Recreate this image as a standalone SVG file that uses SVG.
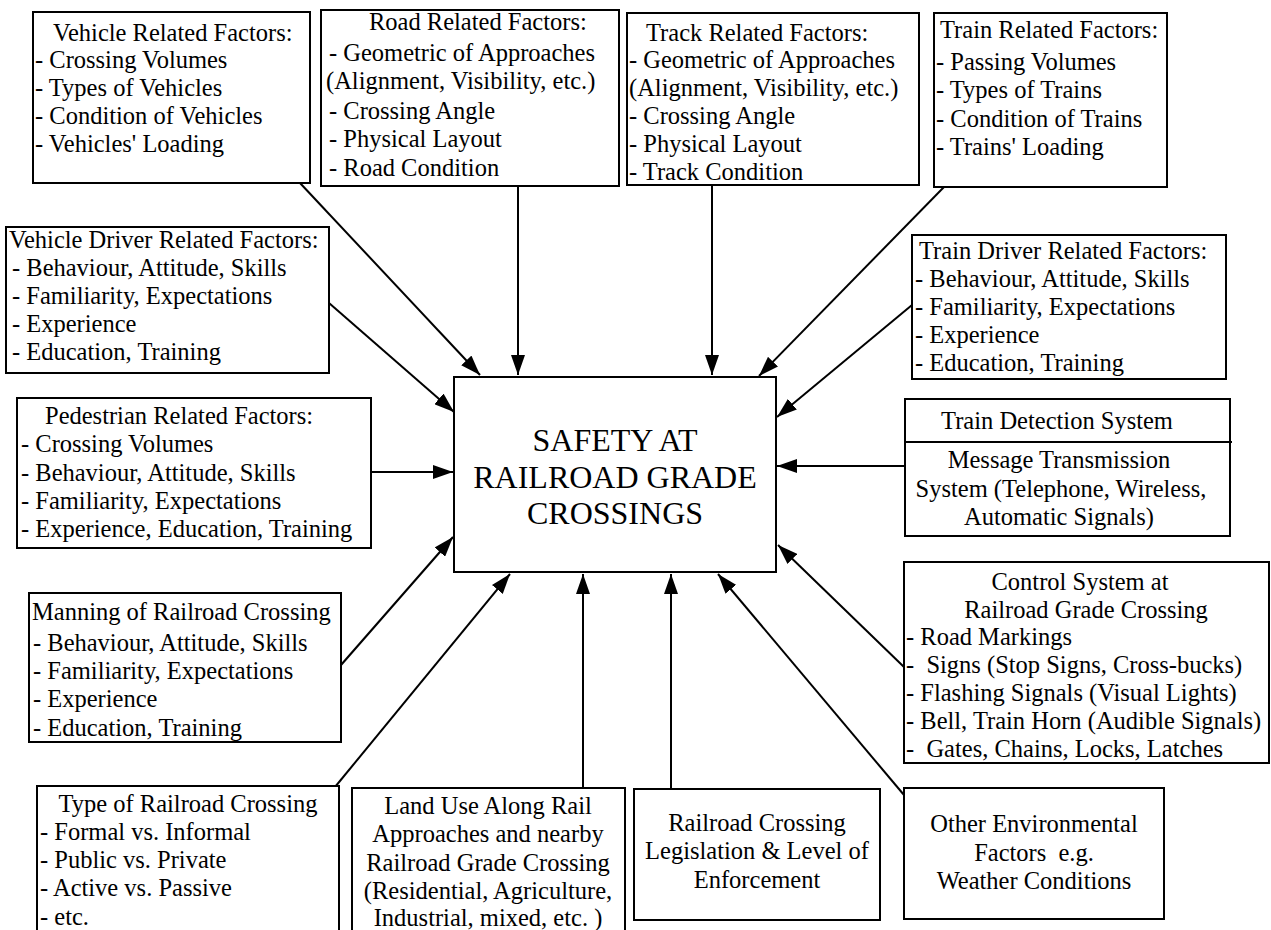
<svg xmlns="http://www.w3.org/2000/svg" width="1271" height="930" viewBox="0 0 1271 930" font-family="'Liberation Serif', 'Times New Roman', 'DejaVu Serif', serif">
<defs>
<marker id="ah" markerUnits="userSpaceOnUse" markerWidth="22" markerHeight="14" refX="20" refY="7" orient="auto"><path d="M0,0 L20,7 L0,14 z" fill="#000"/></marker>
<style>
.box{fill:#fff;stroke:#000;stroke-width:2}
text{font-size:24.5px;fill:#000}
.c{text-anchor:middle}
.big{font-size:32px}
.edge{stroke:#000;stroke-width:2;fill:none;marker-end:url(#ah)}
</style>
</defs>
<rect width="1271" height="930" fill="#fff"/>
<g id="connectors">
<path class="edge" d="M300,183 L480,375"/>
<path class="edge" d="M518,186 L518,375"/>
<path class="edge" d="M712,185 L712,375"/>
<path class="edge" d="M944,187 L759,376"/>
<path class="edge" d="M329,303 L454,412"/>
<path class="edge" d="M912,305 L777,417"/>
<path class="edge" d="M371,472 L453,472"/>
<path class="edge" d="M905,466 L777,466"/>
<path class="edge" d="M341,665 L453,537"/>
<path class="edge" d="M904,667 L778,545"/>
<path class="edge" d="M335,787 L510,574"/>
<path class="edge" d="M583,788 L583,574"/>
<path class="edge" d="M671,789 L671,574"/>
<path class="edge" d="M904,795 L718,574"/>
</g>
<g id="vehicle">
<rect class="box" x="33" y="12" width="277" height="171"/>
<text x="53" y="41">Vehicle Related Factors:</text>
<text x="35" y="68">- Crossing Volumes</text>
<text x="35" y="96">- Types of Vehicles</text>
<text x="35" y="124">- Condition of Vehicles</text>
<text x="35" y="152">- Vehicles' Loading</text>
</g>
<g id="road">
<rect class="box" x="321" y="10" width="298" height="176"/>
<text x="369" y="30">Road Related Factors:</text>
<text x="329" y="61">- Geometric of Approaches</text>
<text x="326" y="89">(Alignment, Visibility, etc.)</text>
<text x="329" y="119">- Crossing Angle</text>
<text x="329" y="147">- Physical Layout</text>
<text x="329" y="176">- Road Condition</text>
</g>
<g id="track">
<rect class="box" x="627" y="13" width="292" height="172"/>
<text x="646" y="41">Track Related Factors:</text>
<text x="629" y="68">- Geometric of Approaches</text>
<text x="629" y="96">(Alignment, Visibility, etc.)</text>
<text x="629" y="124">- Crossing Angle</text>
<text x="629" y="152">- Physical Layout</text>
<text x="629" y="180">- Track Condition</text>
</g>
<g id="train">
<rect class="box" x="934" y="13" width="233" height="174"/>
<text x="940" y="38">Train Related Factors:</text>
<text x="936" y="70">- Passing Volumes</text>
<text x="936" y="98">- Types of Trains</text>
<text x="936" y="127">- Condition of Trains</text>
<text x="936" y="155">- Trains' Loading</text>
</g>
<g id="vehicle-driver">
<rect class="box" x="6" y="227" width="323" height="146"/>
<text x="9" y="248">Vehicle Driver Related Factors:</text>
<text x="12" y="276">- Behaviour, Attitude, Skills</text>
<text x="12" y="304">- Familiarity, Expectations</text>
<text x="12" y="332">- Experience</text>
<text x="12" y="360">- Education, Training</text>
</g>
<g id="train-driver">
<rect class="box" x="912" y="235" width="314" height="144"/>
<text x="919" y="259">Train Driver Related Factors:</text>
<text x="915" y="287">- Behaviour, Attitude, Skills</text>
<text x="915" y="315">- Familiarity, Expectations</text>
<text x="915" y="343">- Experience</text>
<text x="915" y="371">- Education, Training</text>
</g>
<g id="pedestrian">
<rect class="box" x="17" y="398" width="354" height="150"/>
<text x="45" y="424">Pedestrian Related Factors:</text>
<text x="21" y="452">- Crossing Volumes</text>
<text x="21" y="481">- Behaviour, Attitude, Skills</text>
<text x="21" y="509">- Familiarity, Expectations</text>
<text x="21" y="537">- Experience, Education, Training</text>
</g>
<g id="safety">
<rect class="box" x="454" y="377" width="322" height="195"/>
<text class="c big" x="615" y="451">SAFETY AT</text>
<text class="c big" x="615" y="488">RAILROAD GRADE</text>
<text class="c big" x="615" y="524">CROSSINGS</text>
</g>
<g id="train-detection">
<rect class="box" x="905" y="399" width="325" height="137"/>
<line x1="905" y1="442" x2="1232" y2="442" stroke="#000" stroke-width="2"/>
<text class="c" x="1057" y="429">Train Detection System</text>
<text class="c" x="1059" y="468">Message Transmission</text>
<text class="c" x="1061" y="497">System (Telephone, Wireless,</text>
<text class="c" x="1059" y="525">Automatic Signals)</text>
</g>
<g id="manning">
<rect class="box" x="29" y="593" width="312" height="149"/>
<text x="32" y="620">Manning of Railroad Crossing</text>
<text x="33" y="651">- Behaviour, Attitude, Skills</text>
<text x="33" y="679">- Familiarity, Expectations</text>
<text x="33" y="707">- Experience</text>
<text x="33" y="736">- Education, Training</text>
</g>
<g id="control">
<rect class="box" x="904" y="562" width="365" height="201"/>
<text class="c" x="1080" y="590">Control System at</text>
<text class="c" x="1086" y="618">Railroad Grade Crossing</text>
<text x="906" y="645">- Road Markings</text>
<text x="906" y="673" xml:space="preserve">-  Signs (Stop Signs, Cross-bucks)</text>
<text x="906" y="701">- Flashing Signals (Visual Lights)</text>
<text x="906" y="729">- Bell, Train Horn (Audible Signals)</text>
<text x="906" y="757" xml:space="preserve">-  Gates, Chains, Locks, Latches</text>
</g>
<g id="type">
<rect class="box" x="37" y="786" width="302" height="160"/>
<text class="c" x="188" y="812">Type of Railroad Crossing</text>
<text x="40" y="840">- Formal vs. Informal</text>
<text x="40" y="868">- Public vs. Private</text>
<text x="40" y="896">- Active vs. Passive</text>
<text x="40" y="925">- etc.</text>
</g>
<g id="land-use">
<rect class="box" x="352" y="788" width="273" height="160"/>
<text class="c" x="488" y="814">Land Use Along Rail</text>
<text class="c" x="488" y="842">Approaches and nearby</text>
<text class="c" x="488" y="871">Railroad Grade Crossing</text>
<text class="c" x="488" y="899">(Residential, Agriculture,</text>
<text class="c" x="488" y="926">Industrial, mixed, etc. )</text>
</g>
<g id="legislation">
<rect class="box" x="634" y="789" width="246" height="131"/>
<text class="c" x="757" y="831">Railroad Crossing</text>
<text class="c" x="757" y="859">Legislation &amp; Level of</text>
<text class="c" x="757" y="888">Enforcement</text>
</g>
<g id="other-env">
<rect class="box" x="904" y="788" width="260" height="131"/>
<text class="c" x="1034" y="832">Other Environmental</text>
<text class="c" x="1034" y="861" xml:space="preserve">Factors  e.g.</text>
<text class="c" x="1034" y="889">Weather Conditions</text>
</g>
</svg>
